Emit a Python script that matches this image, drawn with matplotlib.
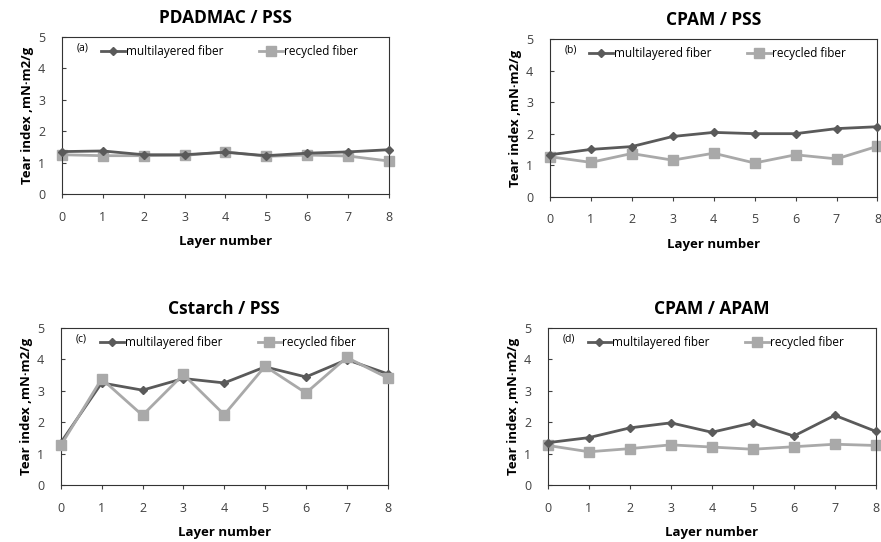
import matplotlib
matplotlib.use("Agg")
import matplotlib.pyplot as plt

plt.rcParams['font.family'] = ['Open Sans', 'DejaVu Sans']

layers = [0, 1, 2, 3, 4, 5, 6, 7, 8]

titles = ["PDADMAC / PSS", "CPAM / PSS", "Cstarch / PSS", "CPAM / APAM"]
tags = ["(a)", "(b)", "(c)", "(d)"]

multi_a = [1.35, 1.37, 1.25, 1.25, 1.33, 1.22, 1.30, 1.34, 1.41]
recyc_a = [1.25, 1.22, 1.22, 1.23, 1.34, 1.20, 1.24, 1.21, 1.05]

multi_b = [1.33, 1.50, 1.59, 1.91, 2.04, 2.00, 2.00, 2.16, 2.22]
recyc_b = [1.27, 1.09, 1.37, 1.16, 1.38, 1.07, 1.33, 1.20, 1.60]

multi_c = [1.35, 3.25, 3.02, 3.39, 3.25, 3.76, 3.44, 3.99, 3.54]
recyc_c = [1.26, 3.38, 2.22, 3.52, 2.24, 3.78, 2.93, 4.06, 3.41]

multi_d = [1.35, 1.51, 1.82, 1.98, 1.68, 1.98, 1.56, 2.22, 1.71]
recyc_d = [1.26, 1.06, 1.16, 1.28, 1.21, 1.14, 1.22, 1.30, 1.26]

multi = [multi_a, multi_b, multi_c, multi_d]
recyc = [recyc_a, recyc_b, recyc_c, recyc_d]

# axes boxes in figure fractions (left, bottom, width, height)
boxes = [
    [0.0704, 0.642, 0.371, 0.290],
    [0.624, 0.637, 0.372, 0.291],
    [0.069, 0.105, 0.371, 0.290],
    [0.622, 0.105, 0.372, 0.290],
]

dark = "#5a5a5a"
light = "#a9a9a9"

fig = plt.figure(figsize=(8.81, 5.42), dpi=100)

for i in range(4):
    ax = fig.add_axes(boxes[i])
    ax.plot(layers, multi[i], color=dark, lw=2, marker="D", ms=4.5,
            label="multilayered fiber", clip_on=False, zorder=3)
    ax.plot(layers, recyc[i], color=light, lw=2, marker="s", ms=7,
            label="recycled fiber", clip_on=False, zorder=2 if i != 2 else 4)
    ax.set_xlim(0, 8)
    ax.set_ylim(0, 5)
    ax.set_xticks(layers)
    ax.set_yticks([0, 1, 2, 3, 4, 5])
    ax.tick_params(axis="y", direction="in", length=3, labelsize=9,
                   colors="#404040", pad=12)
    ax.tick_params(axis="x", direction="out", length=3, labelsize=9,
                   colors="#404040", pad=9)
    for s in ax.spines.values():
        s.set_color("#333333")
        s.set_linewidth(0.8)
    ax.set_title(titles[i], fontsize=12.5, fontweight="bold", pad=10)
    ax.set_xlabel("Layer number", fontsize=9.5, fontweight="bold", labelpad=8)
    ax.set_ylabel("Tear index ,mN·m2/g", fontsize=9.5, fontweight="bold", labelpad=3)
    ax.text(0.046, 0.93, tags[i], transform=ax.transAxes, fontsize=7.5,
            va="center", ha="left")
    ax.legend(loc="upper center", bbox_to_anchor=(0.512, 1.015), ncol=2,
              frameon=False, fontsize=8.5, handlelength=2.0,
              handletextpad=0.1, columnspacing=3.0)

fig.savefig("out.png", dpi=100)
